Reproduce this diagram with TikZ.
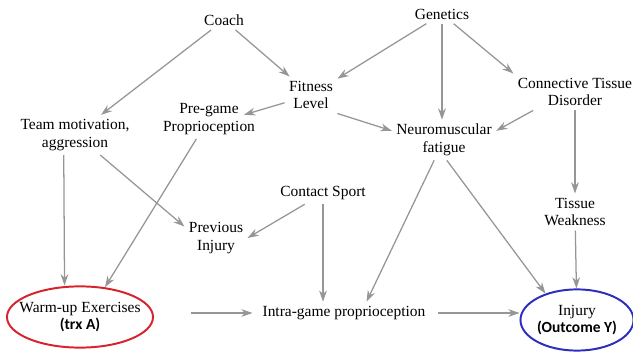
\documentclass[tikz,border=0pt]{standalone}
\usepackage{fontspec}
\setmainfont{Liberation Serif}
\newfontfamily\calibri{Carlito}
\usetikzlibrary{arrows.meta, shapes.geometric}
\definecolor{gris}{RGB}{150,150,150}
\definecolor{rouge}{RGB}{215,35,45}
\definecolor{bleu}{RGB}{45,45,190}

\begin{document}
\begin{tikzpicture}[x=0.025cm, y=-0.025cm, font=\fontsize{11}{12.5}\selectfont,
		var/.style={align=center, inner sep=3pt},
		fleche/.style={-{Stealth[length=8pt, width=5.5pt]}, gris, line width=0.9pt},
		bulle/.style={ellipse, line width=1.4pt, align=center, inner sep=0pt}]
	
	\useasboundingbox (0,0) rectangle (633,353);
	
	% Variables
	\node[var] (coach)      at (224,20)  {Coach};
	\node[var] (genetics)   at (442,14)  {Genetics};
	\node[var] (fitness)    at (311,95)  {Fitness\\Level};
	\node[var] (pregame)    at (209,119) {Pre-game\\Proprioception};
	\node[var] (team)       at (75,135)  {Team motivation,\\aggression};
	\node[var] (neuro)      at (444,140) {Neuromuscular\\fatigue};
	\node[var] (connective) at (575,92)  {Connective Tissue\\Disorder};
	\node[var] (contact)    at (323,193) {Contact Sport};
	\node[var] (previous)   at (216,238) {Previous\\Injury};
	\node[var] (tissue)     at (575,212) {Tissue\\Weakness};
	\node[var] (intra)      at (344,313) {Intra-game proprioception};
	
	% Traitement et issue
	\node[bulle, draw=rouge, inner xsep=-7pt, minimum width=3.65cm, minimum height=1.53cm] (warm) at (80,317)
		{Warm-up Exercises\\{\calibri\bfseries (trx A)}};
	\node[bulle, draw=bleu, minimum width=2.75cm, minimum height=1.53cm] (injury) at (577,320)
		{Injury\\{\calibri\bfseries (Outcome Y)}};
	
	% Liens
	\draw[fleche] (coach) -- (team);
	\draw[fleche] (coach) -- (fitness);
	\draw[fleche] (genetics) -- (fitness);
	\draw[fleche] (genetics) -- (genetics |- neuro.north);
	\draw[fleche] (genetics) -- (connective.north west);
	\draw[fleche] (fitness) -- ([xshift=-11pt, yshift=3pt]pregame.east);
	\draw[fleche] (fitness.south east) -- (neuro.170);
	\draw[fleche] ([xshift=14pt]connective.south west) -- (neuro.10);
	\draw[fleche] (connective) -- (tissue);
	\draw[fleche] ([xshift=-8pt]team.south) -- ([xshift=-11pt]warm.north);
	\draw[fleche] ([xshift=18pt]team.south) -- (previous.160);
	\draw[fleche] ([xshift=-9pt]pregame.south) -- (warm.50);
	\draw[fleche] ([xshift=-13pt]contact.south) -- (previous.east);
	\draw[fleche] (contact) -- (contact |- intra.north);
	\draw[fleche] ([xshift=-7pt]neuro.south) -- ([xshift=16pt]intra.north);
	\draw[fleche] ([xshift=2pt]neuro.south) -- (injury.140);
	\draw[fleche] (tissue) -- (injury);
	\draw[fleche, shorten <=26pt, shorten >=4pt] (warm.east |- intra.west) -- (intra.west);
	\draw[fleche, shorten <=6pt] (intra.east) -- (intra.east -| injury.west);
	
\end{tikzpicture}
\end{document}
